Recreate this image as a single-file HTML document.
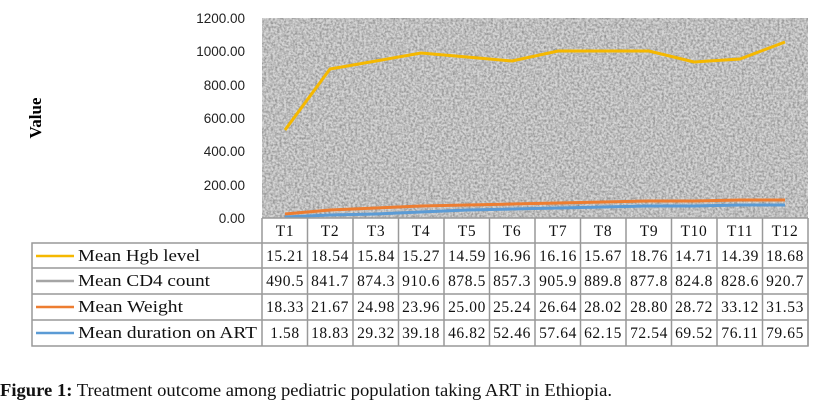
<!DOCTYPE html>
<html><head><meta charset="utf-8"><style>
html,body{margin:0;padding:0;background:#fff;width:826px;height:409px;overflow:hidden}
</style></head><body>
<svg width="826" height="409" viewBox="0 0 826 409" xmlns="http://www.w3.org/2000/svg" font-family="Liberation Serif, serif">
<defs>
<filter id="n" x="0" y="0" width="100%" height="100%">
<feTurbulence type="fractalNoise" baseFrequency="0.45" numOctaves="2" seed="3"/>
<feColorMatrix type="matrix" values="0 0 0 0 0  0 0 0 0 0  0 0 0 0 0  -1.4 0 0 0 0.95"/>
</filter>
</defs>
<rect x="262" y="18" width="546" height="200" fill="#d6d6d6"/>
<rect x="262" y="18" width="546" height="200" fill="#000" filter="url(#n)" opacity="0.45"/>
<g font-size="13.5" fill="#222" text-anchor="end" font-family="Liberation Sans, sans-serif">
<text x="245" y="23">1200.00</text><text x="245" y="56">1000.00</text><text x="245" y="90">800.00</text>
<text x="245" y="123">600.00</text><text x="245" y="156">400.00</text><text x="245" y="190">200.00</text><text x="245" y="223">0.00</text>
</g>
<text transform="translate(41,118) rotate(-90)" text-anchor="middle" font-size="17" font-weight="bold">Value</text>
<polyline fill="none" stroke="#f5b800" stroke-width="3" points="285,130 330,69 376,61 421,53 467,57 512,61 558,51 603,51 649,51 694,62 740,59 785,42"/>
<polyline fill="none" stroke="#ed7d31" stroke-width="3" points="285,214 330,210 376,208 421,206 467,205 512,204 558,203 603,202 649,201 694,201 740,200 785,200"/>
<polyline fill="none" stroke="#5b9bd5" stroke-width="3" points="285,217 330,215 376,214 421,212 467,210 512,209 558,208 603,207 649,206 694,206 740,205 785,205"/>
<g stroke="#999" stroke-width="1.5" fill="none">
<rect x="32" y="243" width="776" height="103"/>
<line x1="262" y1="218" x2="808" y2="218"/>
<line x1="262" y1="218" x2="262" y2="346"/><line x1="808" y1="218" x2="808" y2="346"/>
<line x1="32" y1="268" x2="808" y2="268"/><line x1="32" y1="294" x2="808" y2="294"/><line x1="32" y1="320" x2="808" y2="320"/>
<line x1="307.5" y1="218" x2="307.5" y2="346"/><line x1="353" y1="218" x2="353" y2="346"/><line x1="398.5" y1="218" x2="398.5" y2="346"/>
<line x1="444" y1="218" x2="444" y2="346"/><line x1="489.5" y1="218" x2="489.5" y2="346"/><line x1="535" y1="218" x2="535" y2="346"/>
<line x1="580.5" y1="218" x2="580.5" y2="346"/><line x1="626" y1="218" x2="626" y2="346"/><line x1="671.5" y1="218" x2="671.5" y2="346"/>
<line x1="717" y1="218" x2="717" y2="346"/><line x1="762.5" y1="218" x2="762.5" y2="346"/>
</g>
<g stroke-width="2.5">
<line x1="36" y1="256" x2="74" y2="256" stroke="#f5b800"/>
<line x1="36" y1="281" x2="74" y2="281" stroke="#a5a5a5"/>
<line x1="36" y1="307" x2="74" y2="307" stroke="#ed7d31"/>
<line x1="36" y1="333" x2="74" y2="333" stroke="#5b9bd5"/>
</g>
<g font-size="16.5" fill="#111" lengthAdjust="spacingAndGlyphs">
<text x="78" y="261" textLength="122" lengthAdjust="spacingAndGlyphs">Mean Hgb level</text>
<text x="78" y="286" textLength="132" lengthAdjust="spacingAndGlyphs">Mean CD4  count</text>
<text x="78" y="312" textLength="105" lengthAdjust="spacingAndGlyphs">Mean Weight</text>
<text x="78" y="338" textLength="179" lengthAdjust="spacingAndGlyphs">Mean duration on ART</text>
</g>
<g font-size="15.5" fill="#111" text-anchor="middle" letter-spacing="0.6">
<text y="236"><tspan x="285">T1</tspan><tspan x="330">T2</tspan><tspan x="376">T3</tspan><tspan x="421">T4</tspan><tspan x="467">T5</tspan><tspan x="512">T6</tspan><tspan x="558">T7</tspan><tspan x="603">T8</tspan><tspan x="649">T9</tspan><tspan x="694">T10</tspan><tspan x="740">T11</tspan><tspan x="785">T12</tspan></text>
<text y="261"><tspan x="285">15.21</tspan><tspan x="330">18.54</tspan><tspan x="376">15.84</tspan><tspan x="421">15.27</tspan><tspan x="467">14.59</tspan><tspan x="512">16.96</tspan><tspan x="558">16.16</tspan><tspan x="603">15.67</tspan><tspan x="649">18.76</tspan><tspan x="694">14.71</tspan><tspan x="740">14.39</tspan><tspan x="785">18.68</tspan></text>
<text y="286"><tspan x="285">490.5</tspan><tspan x="330">841.7</tspan><tspan x="376">874.3</tspan><tspan x="421">910.6</tspan><tspan x="467">878.5</tspan><tspan x="512">857.3</tspan><tspan x="558">905.9</tspan><tspan x="603">889.8</tspan><tspan x="649">877.8</tspan><tspan x="694">824.8</tspan><tspan x="740">828.6</tspan><tspan x="785">920.7</tspan></text>
<text y="312"><tspan x="285">18.33</tspan><tspan x="330">21.67</tspan><tspan x="376">24.98</tspan><tspan x="421">23.96</tspan><tspan x="467">25.00</tspan><tspan x="512">25.24</tspan><tspan x="558">26.64</tspan><tspan x="603">28.02</tspan><tspan x="649">28.80</tspan><tspan x="694">28.72</tspan><tspan x="740">33.12</tspan><tspan x="785">31.53</tspan></text>
<text y="338"><tspan x="285">1.58</tspan><tspan x="330">18.83</tspan><tspan x="376">29.32</tspan><tspan x="421">39.18</tspan><tspan x="467">46.82</tspan><tspan x="512">52.46</tspan><tspan x="558">57.64</tspan><tspan x="603">62.15</tspan><tspan x="649">72.54</tspan><tspan x="694">69.52</tspan><tspan x="740">76.11</tspan><tspan x="785">79.65</tspan></text>
</g>
<text x="0" y="396" font-size="18" fill="#111" textLength="612" lengthAdjust="spacingAndGlyphs"><tspan font-weight="bold">Figure 1:</tspan> Treatment outcome among pediatric population taking ART in Ethiopia.</text>
</svg>
</body></html>
